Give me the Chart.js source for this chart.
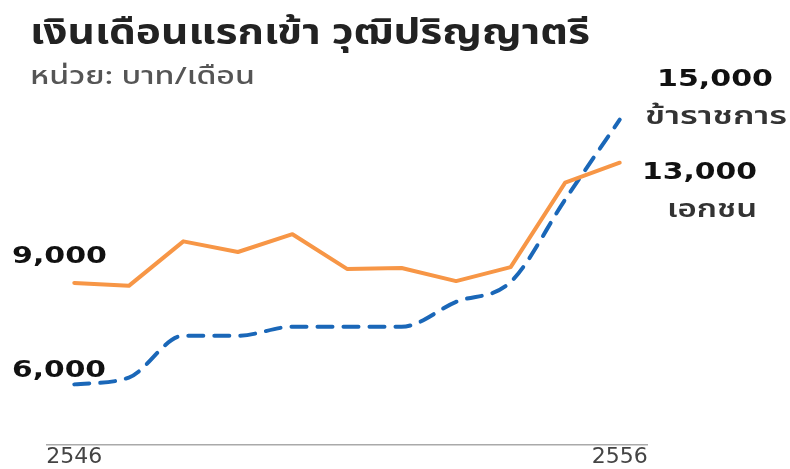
<!DOCTYPE html>
<html>
<head>
<meta charset="utf-8">
<script src="https://cdn.jsdelivr.net/npm/chart.js@4"></script>
<style>
  html, body { margin: 0; padding: 0; background: #fff; }
  #wrap { width: 790px; height: 469px; }
</style>
</head>
<body>
<div id="wrap"><canvas id="myChart" width="790" height="469"></canvas></div>
<script>
// years (Buddhist era)
var years = ["2546", "2547", "2548", "2549", "2550", "2551", "2552", "2553", "2554", "2555", "2556"];
// starting salary, bachelor degree (baht / month)
var govSalary = [5800, 6030, 7440, 7440, 7740, 7740, 7740, 8580, 9250, 12030, 14720];
var privateSalary = [9220, 9120, 10620, 10260, 10860, 9690, 9720, 9280, 9750, 12600, 13270];
var tickYears = ["2546", "2556"];

var thaiFont = '"Noto Sans Thai", "Noto Sans Thai UI", Loma, Garuda, "Tlwg Typo", Sarabun, "DejaVu Sans", sans-serif';

// draws text squeezed/stretched to a given width
function fitText(ctx, text, x, y, font, color, width) {
  ctx.save();
  ctx.font = font;
  ctx.fillStyle = color;
  ctx.textBaseline = "alphabetic";
  ctx.textAlign = "left";
  var w = ctx.measureText(text).width;
  ctx.translate(x, y);
  ctx.scale(width / w, 1);
  ctx.fillText(text, 0, 0);
  ctx.restore();
}

var labelsPlugin = {
  id: "labels",
  afterDraw: function (chart) {
    var ctx = chart.ctx;
    fitText(ctx, "เงินเดือนแรกเข้า วุฒิปริญญาตรี", 30, 44, "bold 36px " + thaiFont, "#222", 560);
    fitText(ctx, "หน่วย: บาท/เดือน", 30, 84, "500 24px " + thaiFont, "#555", 225);

    var numFont = 'bold 23px "DejaVu Sans", sans-serif';
    fitText(ctx, "15,000", 657, 86, numFont, "#111", 116);
    fitText(ctx, "ข้าราชการ", 645, 124, "600 24px " + thaiFont, "#333", 142);
    fitText(ctx, "13,000", 642, 179, numFont, "#111", 115);
    fitText(ctx, "เอกชน", 667, 217, "600 24px " + thaiFont, "#333", 90);
    fitText(ctx, "9,000", 12, 263, numFont, "#111", 95);
    fitText(ctx, "6,000", 12, 377, numFont, "#111", 94);
  }
};

var ctx = document.getElementById("myChart").getContext("2d");
var myChart = new Chart(ctx, {
  type: "line",
  data: {
    labels: years,
    datasets: [
      {
        label: "เอกชน",
        data: privateSalary,
        borderColor: "#F79646",
        borderWidth: 4,
        pointRadius: 0,
        tension: 0,
        borderJoinStyle: "round",
        borderCapStyle: "round"
      },
      {
        label: "ข้าราชการ",
        data: govSalary,
        borderColor: "#1A67B8",
        borderWidth: 4,
        borderDash: [15, 11],
        borderCapStyle: "round",
        pointRadius: 0,
        cubicInterpolationMode: "monotone"
      }
    ]
  },
  options: {
    responsive: false,
    animation: false,
    layout: { padding: { left: 47, right: 143, top: 90, bottom: 0 } },
    plugins: {
      legend: { display: false },
      tooltip: { enabled: false }
    },
    scales: {
      x: {
        offset: true,
        grid: { display: false, drawTicks: false },
        border: { display: true, color: "#aaa", width: 1.5 },
        ticks: {
          autoSkip: false,
          maxRotation: 0,
          padding: 2,
          color: "#444",
          font: { family: '"DejaVu Sans", sans-serif', size: 22, lineHeight: 0.9 },
          callback: function (value, index) {
            var lab = this.getLabelForValue(value);
            return tickYears.indexOf(lab) >= 0 ? lab : "";
          }
        }
      },
      y: {
        display: false,
        min: 3750,
        max: 15720
      }
    }
  },
  plugins: [labelsPlugin]
});
</script>
</body>
</html>
